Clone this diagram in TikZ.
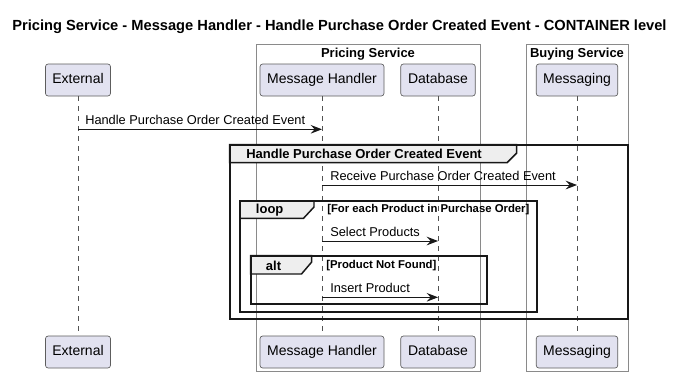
\documentclass[tikz,border=0pt]{standalone}
\usepackage{fontspec}
\setmainfont{Liberation Sans}
\usetikzlibrary{arrows.meta}
\definecolor{partfill}{HTML}{E2E2F0}
\definecolor{partline}{HTML}{181818}
\definecolor{boxline}{HTML}{8A8A8A}
\definecolor{tabfill}{HTML}{EEEEEE}
\newcommand{\pxfont}[1]{\fontsize{#1}{#1}\selectfont}
\tikzset{
  participant/.style={draw=partline!70, fill=partfill, rounded corners=2pt, line width=0.5pt,
    minimum height=24pt, inner sep=0pt, text height=7.6pt, text depth=2.2pt, font=\pxfont{10.5pt}},
  grouplabel/.style={font=\bfseries\pxfont{9.75pt}, inner sep=0pt, anchor=base},
  groupbox/.style={draw=boxline, line width=0.6pt},
  lifeline/.style={draw=partline!75, line width=0.6pt, dash pattern=on 3.75pt off 3.75pt},
  frameline/.style={draw=partline, line width=1.5pt},
  tabshape/.style={draw=partline, line width=1.1pt, fill=tabfill},
  framelabel/.style={font=\bfseries\pxfont{9.75pt}, inner sep=0pt, anchor=west},
  guard/.style={font=\bfseries\pxfont{8.5pt}, inner sep=0pt, anchor=west},
  msg/.style={draw=partline, line width=0.75pt, -{Stealth[length=8.5pt, width=6.5pt, inset=3pt]}},
  msglabel/.style={font=\pxfont{9.6pt}, inner sep=0pt, anchor=base west},
}
\begin{document}
\begin{tikzpicture}[x=0.75pt, y=-0.75pt]
\useasboundingbox (0,0) rectangle (685,376);
\fill[white] (0,0) rectangle (685,376);

% title
\node[font=\bfseries\pxfont{11pt}, inner sep=0pt, anchor=base] (title) at (339.5,30)
  {Pricing Service - Message Handler - Handle Purchase Order Created Event - CONTAINER level};

% service boxes
\draw[groupbox] (256,44) rectangle (480.5,371.5);
\node[grouplabel] (pricing) at (368,57) {Pricing Service};
\draw[groupbox] (526,44) rectangle (628.3,371.5);
\node[grouplabel] (buying) at (577,57) {Buying Service};

% participants (head and foot)
\node[participant, minimum width=48.75pt] (ext) at (78,80) {External};
\node[participant, minimum width=93pt] (mh) at (322,80) {Message Handler};
\node[participant, minimum width=55.9pt] (db) at (438,80) {Database};
\node[participant, minimum width=61.1pt] (msgq) at (577,80) {Messaging};
\node[participant, minimum width=48.75pt] (extb) at (78,352) {External};
\node[participant, minimum width=93pt] (mhb) at (322,352) {Message Handler};
\node[participant, minimum width=55.9pt] (dbb) at (438,352) {Database};
\node[participant, minimum width=61.1pt] (msgqb) at (577,352) {Messaging};

% lifelines
\draw[lifeline] (ext.south) -- (extb.north);
\draw[lifeline] (mh.south) -- (mhb.north);
\draw[lifeline] (db.south) -- (dbb.north);
\draw[lifeline] (msgq.south) -- (msgqb.north);

% message rows
\coordinate (r1) at (0,129.3);
\coordinate (r2) at (0,185);
\coordinate (r3) at (0,241);
\coordinate (r4) at (0,297.3);

% group frame
\draw[frameline] (229.5,144.5) rectangle (628.3,319);
\draw[tabshape] (229.5,144.5) -- (516.7,144.5) -- (516.7,153) -- (507,162.7) -- (229.5,162.7) -- cycle;
\draw[frameline] (229.5,144.5) rectangle (628.3,319);
\node[framelabel] (grp) at (246,154) {Handle Purchase Order Created Event};

% loop frame
\draw[frameline] (240,201) rectangle (537.3,311.7);
\draw[tabshape] (240,201) -- (314,201) -- (314,207) -- (303.5,218.3) -- (240,218.3) -- cycle;
\draw[frameline] (240,201) rectangle (537.3,311.7);
\node[framelabel] (loop) at (255.7,210) {loop};
\node[guard] (loopguard) at (327,210) {[For each Product in Purchase Order]};

% alt frame
\draw[frameline] (250.7,255.7) rectangle (486.7,304.3);
\draw[tabshape] (250.7,255.7) -- (311.7,255.7) -- (311.7,262) -- (301.5,274) -- (250.7,274) -- cycle;
\draw[frameline] (250.7,255.7) rectangle (486.7,304.3);
\node[framelabel] (alt) at (265.7,265.5) {alt};
\node[guard] (altguard) at (326,265.5) {[Product Not Found]};

% messages
\draw[msg] (ext |- r1) -- (mh |- r1);
\node[msglabel] (l1) at (85,124.6) {Handle Purchase Order Created Event};
\draw[msg] (mh |- r2) -- (msgq |- r2);
\node[msglabel] (l2) at (330,180.3) {Receive Purchase Order Created Event};
\draw[msg] (mh |- r3) -- (db |- r3);
\node[msglabel] (l3) at (330,236.3) {Select Products};
\draw[msg] (mh |- r4) -- (db |- r4);
\node[msglabel] (l4) at (330,292.6) {Insert Product};
\end{tikzpicture}
\end{document}
